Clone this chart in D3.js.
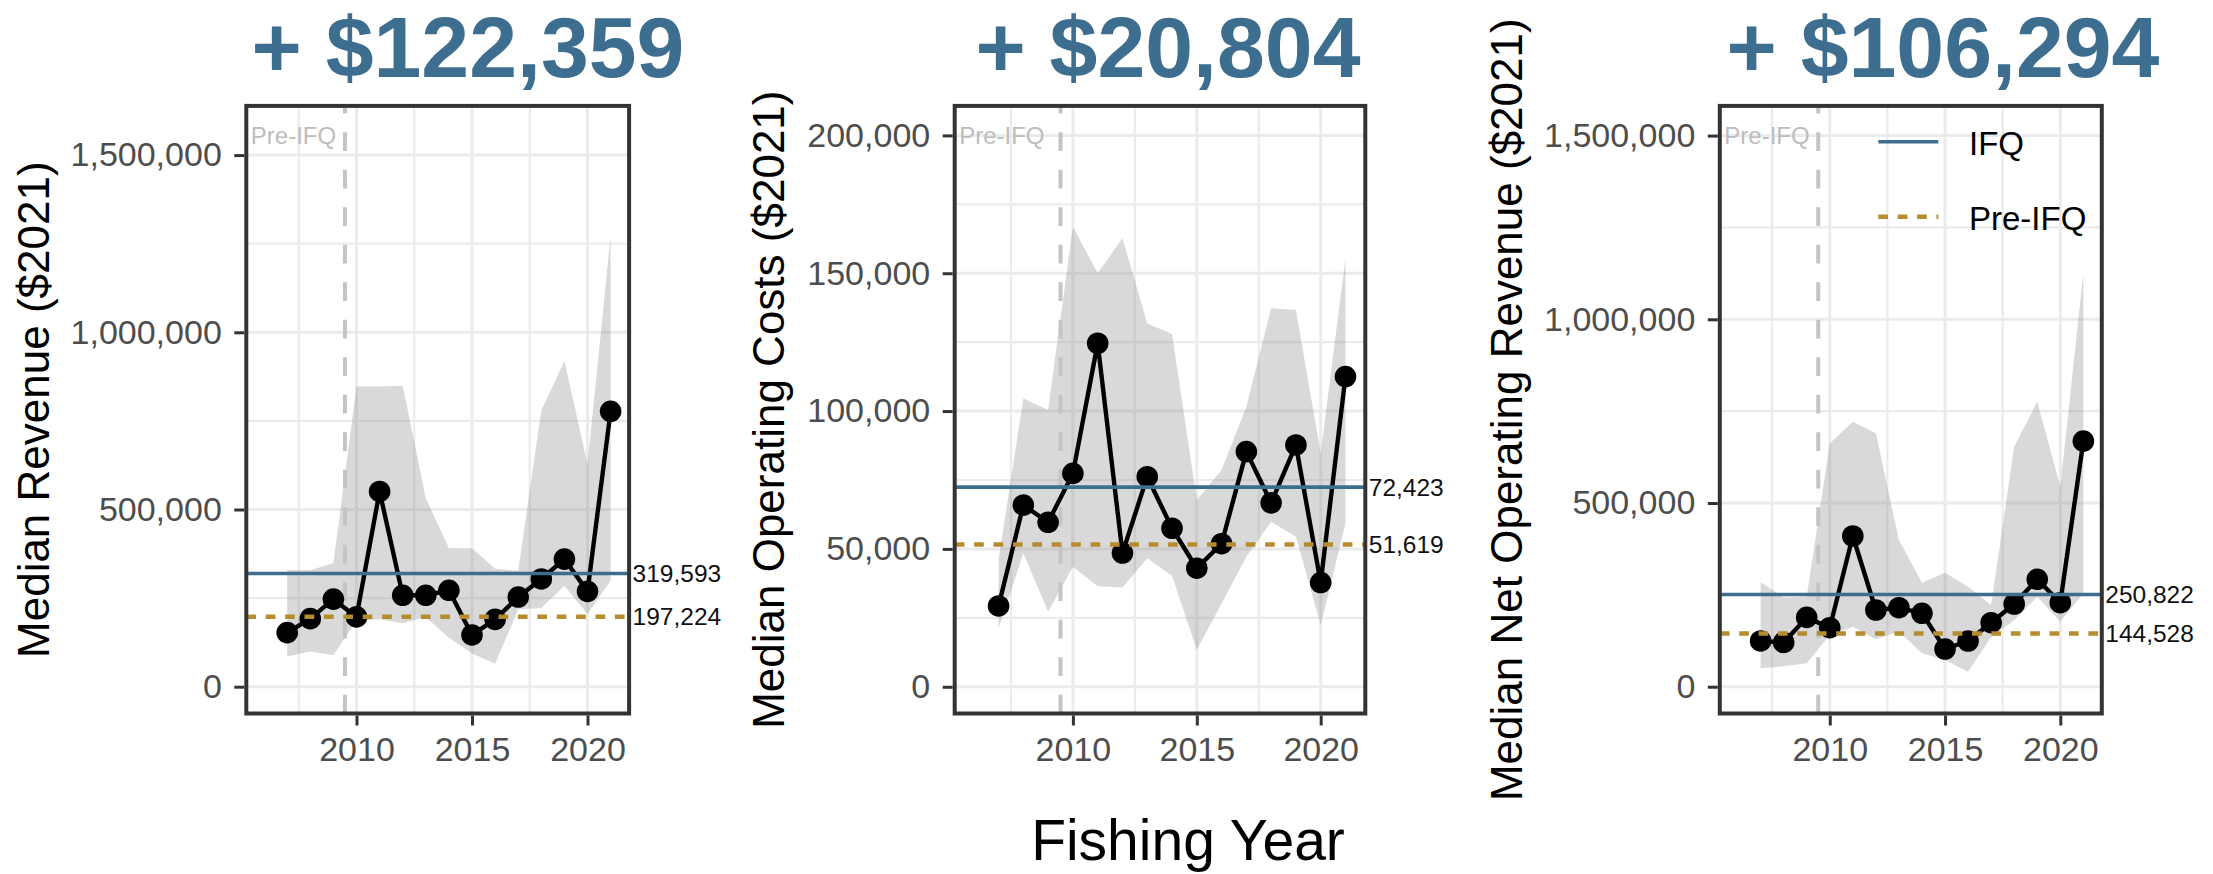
<!DOCTYPE html>
<html>
<head>
<meta charset="utf-8">
<script src="https://cdn.jsdelivr.net/npm/d3@7"></script>
<style>
  body { margin: 0; background: #ffffff; }
  svg { display: block; }
  text { font-family: "Liberation Sans", Arial, Helvetica, sans-serif; }
</style>
</head>
<body>
<svg id="chart" width="2213" height="874"></svg>
<script>
// ---- data -------------------------------------------------------------
const years = [2007, 2008, 2009, 2010, 2011, 2012, 2013, 2014, 2015, 2016, 2017, 2018, 2019, 2020, 2021];

// Median revenue ($2021) with its interquartile band
const revenueMedian = [152700, 192000, 247000, 197000, 551000, 258000, 258000, 272000, 146000, 190000, 253000, 304000, 360000, 269000, 777000];
const revenueLower  = [85000, 99000, 89000, 186000, 190000, 179000, 197000, 138000, 94000, 65000, 218000, 222000, 285000, 205000, 300000];
const revenueUpper  = [329000, 329000, 348000, 847000, 847000, 849000, 532000, 391000, 391000, 333000, 327000, 779000, 919000, 628000, 1272000];

// Median operating costs ($2021)
const costMedian = [29300, 65900, 59650, 77400, 124600, 48500, 76200, 57500, 43000, 51900, 85300, 66700, 87700, 37800, 112500];
const costLower  = [21200, 48400, 27200, 43500, 36500, 36000, 46600, 40200, 13300, 30200, 47200, 59900, 54400, 22400, 59300];
const costUpper  = [46000, 104600, 100400, 166900, 150000, 162700, 131800, 128000, 67700, 78600, 101600, 137300, 136700, 84700, 155400];

// Median net operating revenue ($2021)
const netMedian = [124500, 120500, 188600, 160600, 410200, 208800, 215000, 199800, 102600, 124400, 174200, 225100, 292300, 228600, 668300];
const netLower  = [50000, 56000, 64000, 141000, 163000, 129000, 150000, 91000, 73000, 41000, 136000, 181000, 245000, 177000, 254000];
const netUpper  = [284000, 243000, 245000, 662000, 721000, 690000, 399000, 283000, 310000, 272000, 222000, 653000, 776000, 544000, 1125000];

// Period averages (IFQ = 2010 onward, Pre-IFQ = 2007-2009)
const ifqMeans = [319593, 72423, 250822];
const preMeans = [197224, 51619, 144528];

const gainTitles = ["+ $122,359", "+ $20,804", "+ $106,294"];
const yTitles = ["Median Revenue ($2021)", "Median Operating Costs ($2021)", "Median Net Operating Revenue ($2021)"];
const xTitle = "Fishing Year";

const ticksRevenue = [0, 500000, 1000000, 1500000];
const ticksCosts   = [0, 50000, 100000, 150000, 200000];
const ticksNet     = [0, 500000, 1000000, 1500000];
const yearTicks    = [2010, 2015, 2020];
const programStart = 2009.5;
const legendLabels = ["IFQ", "Pre-IFQ"];
const preLabel = "Pre-IFQ";

// ---- styling ------------------------------------------------------------
const BLUE = "#3d6e8f";
const GOLD = "#b68d2e";
const GRID = "#ebebeb";
const DARK = "#333333";

const plotTop = 105.9, plotBottom = 713.5;
const xDomain = [2005.23, 2021.8];

const panelData = [
  { median: revenueMedian, lower: revenueLower, upper: revenueUpper, ticks: ticksRevenue },
  { median: costMedian,    lower: costLower,    upper: costUpper,    ticks: ticksCosts },
  { median: netMedian,     lower: netLower,     upper: netUpper,     ticks: ticksNet }
];

const layout = [
  { left: 246.3,  right: 629.1,  yMin: -75600, yMax: 1638800, titleX: 468,  yTitleX: 48.6 },
  { left: 954.7,  right: 1365.3, yMin: -9700,  yMax: 210700,  titleX: 1168, yTitleX: 784 },
  { left: 1719.8, right: 2101.8, yMin: -72900, yMax: 1580800, titleX: 1943, yTitleX: 1522 }
];

const svg = d3.select("#chart");
svg.append("rect").attr("width", 2213).attr("height", 874).attr("fill", "#ffffff");

panelData.forEach((p, i) => {
  const L = layout[i];
  const g = svg.append("g");
  const x = d3.scaleLinear().domain(xDomain).range([L.left, L.right]);
  const y = d3.scaleLinear().domain([L.yMin, L.yMax]).range([plotBottom, plotTop]);

  const step = p.ticks[1] - p.ticks[0];
  const yMinor = d3.range(p.ticks[0] - step / 2, L.yMax, step).filter(v => v > L.yMin && v < L.yMax);
  const xMinor = yearTicks.map(t => t - 2.5).filter(v => v > xDomain[0] && v < xDomain[1]);

  // panel background grid
  g.append("g").selectAll("line").data(yMinor).join("line")
    .attr("x1", L.left).attr("x2", L.right)
    .attr("y1", d => y(d)).attr("y2", d => y(d))
    .attr("stroke", GRID).attr("stroke-width", 2.2);
  g.append("g").selectAll("line").data(xMinor).join("line")
    .attr("y1", plotTop).attr("y2", plotBottom)
    .attr("x1", d => x(d)).attr("x2", d => x(d))
    .attr("stroke", GRID).attr("stroke-width", 2.2);
  g.append("g").selectAll("line").data(p.ticks).join("line")
    .attr("x1", L.left).attr("x2", L.right)
    .attr("y1", d => y(d)).attr("y2", d => y(d))
    .attr("stroke", GRID).attr("stroke-width", 3);
  g.append("g").selectAll("line").data(yearTicks).join("line")
    .attr("y1", plotTop).attr("y2", plotBottom)
    .attr("x1", d => x(d)).attr("x2", d => x(d))
    .attr("stroke", GRID).attr("stroke-width", 3);

  // interquartile band
  const rows = years.map((yr, k) => ({ yr, m: p.median[k], lo: p.lower[k], hi: p.upper[k] }));
  g.append("path").datum(rows)
    .attr("d", d3.area().x(d => x(d.yr)).y0(d => y(d.lo)).y1(d => y(d.hi)))
    .attr("fill", "#808080").attr("fill-opacity", 0.3);

  // start of the IFQ program (drawn bottom to top)
  g.append("line")
    .attr("x1", x(programStart)).attr("x2", x(programStart))
    .attr("y1", plotBottom).attr("y2", plotTop)
    .attr("stroke", "#c4c4c4").attr("stroke-width", 4)
    .attr("stroke-dasharray", "18.75,18.75");

  // median line and points
  g.append("path").datum(rows)
    .attr("d", d3.line().x(d => x(d.yr)).y(d => y(d.m)))
    .attr("fill", "none").attr("stroke", "#000").attr("stroke-width", 4.4)
    .attr("stroke-linejoin", "round");
  g.append("g").selectAll("circle").data(rows).join("circle")
    .attr("cx", d => x(d.yr)).attr("cy", d => y(d.m)).attr("r", 10.8)
    .attr("fill", "#000");

  // period averages
  g.append("line")
    .attr("x1", L.left).attr("x2", L.right)
    .attr("y1", y(ifqMeans[i])).attr("y2", y(ifqMeans[i]))
    .attr("stroke", BLUE).attr("stroke-width", 3.6);
  g.append("line")
    .attr("x1", L.left).attr("x2", L.right)
    .attr("y1", y(preMeans[i])).attr("y2", y(preMeans[i]))
    .attr("stroke", GOLD).attr("stroke-width", 4.5)
    .attr("stroke-dasharray", "9.7,9.7");

  // labels for the averages, just outside the panel
  const fmt = d3.format(",");
  [ifqMeans[i], preMeans[i]].forEach(v => {
    g.append("text")
      .attr("x", L.right + 3.5).attr("y", y(v))
      .attr("dominant-baseline", "central")
      .attr("font-size", 24.5).attr("fill", "#111")
      .text(fmt(v));
  });

  // pre-IFQ period annotation
  g.append("text")
    .attr("x", L.left + 4.5).attr("y", 144)
    .attr("font-size", 24).attr("fill", "#bdbdbd")
    .text(preLabel);

  // panel border
  g.append("rect")
    .attr("x", L.left).attr("y", plotTop)
    .attr("width", L.right - L.left).attr("height", plotBottom - plotTop)
    .attr("fill", "none").attr("stroke", DARK).attr("stroke-width", 4);

  // axes
  const yAxis = g.append("g").attr("transform", `translate(${L.left - 2},0)`)
    .call(d3.axisLeft(y).tickValues(p.ticks).tickFormat(d3.format(",")).tickSize(10).tickPadding(12.5));
  const xAxis = g.append("g").attr("transform", `translate(0,${plotBottom + 2})`)
    .call(d3.axisBottom(x).tickValues(yearTicks).tickFormat(d3.format("d")).tickSize(10).tickPadding(11.5));
  [yAxis, xAxis].forEach(a => {
    a.select(".domain").remove();
    a.selectAll(".tick line").attr("stroke", DARK).attr("stroke-width", 3);
    a.selectAll(".tick text").attr("font-size", 34).attr("fill", "#4d4d4d")
      .style("font-family", '"Liberation Sans", Arial, sans-serif');
  });

  // axis title
  g.append("text")
    .attr("transform", `translate(${L.yTitleX},${(plotTop + plotBottom) / 2}) rotate(-90)`)
    .attr("text-anchor", "middle")
    .attr("font-size", 44).attr("fill", "#000")
    .text(yTitles[i]);

  // headline change between periods
  g.append("text")
    .attr("x", L.titleX).attr("y", 77)
    .attr("text-anchor", "middle")
    .attr("font-size", 86).attr("font-weight", "bold").attr("fill", BLUE)
    .text(gainTitles[i]);

  // legend lives in the last panel
  if (i === 2) {
    const lg = g.append("g");
    lg.append("line").attr("x1", 1878.3).attr("x2", 1938.3).attr("y1", 141.7).attr("y2", 141.7)
      .attr("stroke", BLUE).attr("stroke-width", 3.6);
    lg.append("line").attr("x1", 1878.3).attr("x2", 1938.3).attr("y1", 216.7).attr("y2", 216.7)
      .attr("stroke", GOLD).attr("stroke-width", 4.5).attr("stroke-dasharray", "9.7,9.7");
    legendLabels.forEach((t, k) => {
      lg.append("text").attr("x", 1969).attr("y", k === 0 ? 143 : 218)
        .attr("dominant-baseline", "central")
        .attr("font-size", 33).attr("fill", "#000").text(t);
    });
  }
});

svg.append("text")
  .attr("x", 1188).attr("y", 860)
  .attr("text-anchor", "middle")
  .attr("font-size", 57).attr("fill", "#000")
  .text(xTitle);
</script>
</body>
</html>
